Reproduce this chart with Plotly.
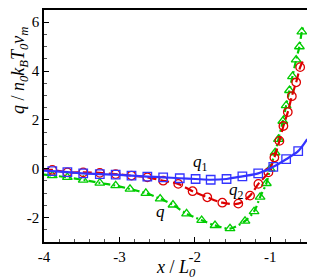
import plotly.graph_objects as go

# ---- data ----
q1_x = [-3.89, -3.69, -3.48, -3.26, -3.05, -2.84, -2.63, -2.42, -2.20, -1.99, -1.79, -1.58, -1.37, -1.16, -0.96, -0.79, -0.63]
q1_y = [-0.10, -0.14, -0.19, -0.22, -0.24, -0.28, -0.32, -0.35, -0.39, -0.42, -0.45, -0.42, -0.31, -0.19, 0.08, 0.39, 0.72]
q1_start = (-4.0, -0.08)
q1_end = (-0.51, 1.21)

q2_x = [-3.89, -3.69, -3.48, -3.26, -3.05, -2.84, -2.63, -2.42, -2.22, -2.03, -1.835, -1.636, -1.424, -1.268, -1.158, -1.025, -0.946, -0.879, -0.826, -0.768, -0.714, -0.657, -0.604]
q2_y = [-0.05, -0.15, -0.15, -0.17, -0.22, -0.28, -0.35, -0.49, -0.62, -0.92, -1.17, -1.39, -1.43, -1.10, -0.62, -0.15, 0.46, 1.14, 1.75, 2.32, 2.97, 3.54, 4.16]
q2_start = (-4.0, -0.02)
q2_end = (-0.56, 4.46)

q_x = [-3.89, -3.69, -3.48, -3.26, -3.05, -2.86, -2.65, -2.46, -2.29, -2.11, -1.91, -1.733, -1.534, -1.335, -1.215, -1.135, -1.052, -1.002, -0.936, -0.892, -0.834, -0.790, -0.746, -0.706, -0.657, -0.614, -0.582]
q_y = [-0.28, -0.35, -0.46, -0.58, -0.69, -0.83, -1.00, -1.23, -1.48, -1.84, -2.11, -2.32, -2.45, -2.14, -1.75, -1.16, -0.60, 0.00, 0.66, 1.21, 1.95, 2.59, 3.21, 3.78, 4.46, 5.00, 5.61]
q_start = (-4.0, -0.24)
q_end = (-0.558, 5.85)

x_tickvals = [-4, -3, -2, -1]
x_ticktext = ["-4", "-3", "-2", "-1"]
y_tickvals = [-2, 0, 2, 4, 6]
y_ticktext = ["-2", "0", "2", "4", "6"]

curve_labels = ["<i>q</i><sub>1</sub>", "<i>q</i><sub>2</sub>", "<i>q</i>"]
label_x = [-1.93, -1.45, -2.46]
label_y = [0.22, -0.93, -1.75]

FONT = "Liberation Serif, Times New Roman, serif"

fig = go.Figure()

def add_curve(xs, ys, start, end, color, dash, symbol):
    lx = [start[0]] + xs + [end[0]]
    ly = [start[1]] + ys + [end[1]]
    fig.add_trace(go.Scatter(x=lx, y=ly, mode="lines",
                             line=dict(color=color, width=2.2, dash=dash, shape="spline", smoothing=0.8),
                             showlegend=False, hoverinfo="skip"))
    fig.add_trace(go.Scatter(x=xs, y=ys, mode="markers",
                             marker=dict(symbol=symbol, size=8.5, color=color,
                                         line=dict(color=color, width=1.3)),
                             showlegend=False))

add_curve(q_x, q_y, q_start, q_end, "#00cc00", "7px,3px,2px,3px", "triangle-up-open")
add_curve(q2_x, q2_y, q2_start, q2_end, "#dd0000", "9px,4px", "circle-open")
add_curve(q1_x, q1_y, q1_start, q1_end, "#3333ff", "solid", "square-open")

for t, lx, ly in zip(curve_labels, label_x, label_y):
    fig.add_annotation(x=lx, y=ly, text=t, showarrow=False,
                       font=dict(family=FONT, size=17, color="black"))

axis_common = dict(showline=True, linecolor="black", linewidth=1.5, mirror=True,
                   ticks="inside", ticklen=5, tickwidth=1.2, tickcolor="black",
                   showgrid=False, zeroline=False,
                   tickfont=dict(family=FONT, size=15, color="black"))

fig.update_xaxes(range=[-4, -0.5], tickmode="array", tickvals=x_tickvals, ticktext=x_ticktext,
                 minor=dict(ticks="inside", ticklen=3, tickcolor="#555", tickmode="linear", tick0=-4, dtick=0.2),
                 **axis_common)
fig.update_yaxes(range=[-3, 6.5], tickmode="array", tickvals=y_tickvals, ticktext=y_ticktext,
                 minor=dict(ticks="inside", ticklen=3, tickcolor="#555", tickmode="linear", tick0=0, dtick=0.5),
                 **axis_common)

fig.add_annotation(xref="paper", yref="paper", x=0.5, y=-0.113, yanchor="middle",
                   text="<i>x</i> / <i>L</i><sub><i>0</i></sub>", showarrow=False,
                   font=dict(family=FONT, size=18, color="black"))
fig.add_annotation(xref="paper", yref="paper", x=-0.092, y=0.74, xanchor="center", yanchor="middle",
                   textangle=-90,
                   text="<i>q</i> / <i>n</i><sub><i>0</i></sub><i>k</i><sub><i>B</i></sub><i>T</i><sub><i>0</i></sub><i>v</i><sub><i>m</i></sub>",
                   showarrow=False, font=dict(family=FONT, size=18, color="black"))

# the page body adds an 8px offset, so the figure is sized to end at the window edge
fig.update_layout(width=307, height=272, margin=dict(l=36, r=7, t=0, b=38),
                  plot_bgcolor="white", paper_bgcolor="white", showlegend=False)

fig.write_html("out.html")
